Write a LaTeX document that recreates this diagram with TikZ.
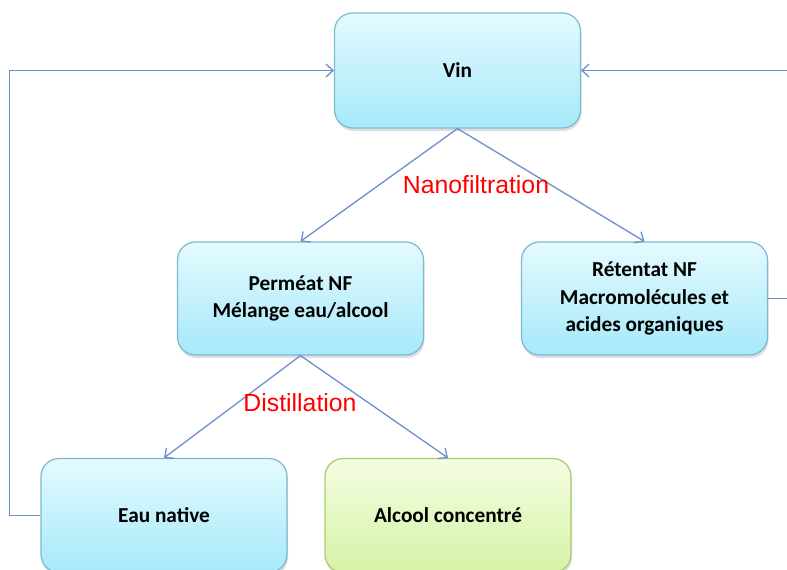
\documentclass[tikz,border=0pt]{standalone}
\usepackage{fontspec}
\setmainfont{Carlito}
\newfontfamily\labelfont{Liberation Sans}
\usetikzlibrary{arrows.meta,shadows}
\definecolor{linec}{HTML}{6E8FC9}
\definecolor{bluetop}{HTML}{E4FAFE}
\definecolor{bluebot}{HTML}{A6E9FA}
\definecolor{blueborder}{HTML}{7DB9D2}
\definecolor{greentop}{HTML}{F4FDE2}
\definecolor{greenbot}{HTML}{D6F3A6}
\definecolor{greenborder}{HTML}{A9CB73}
\tikzset{
  box/.style={draw=blueborder, line width=1.2pt, rounded corners=18pt,
    top color=bluetop, bottom color=bluebot,
    minimum width=246pt, minimum height=113pt, align=center,
    font=\fontsize{21.3}{27.5}\selectfont\bfseries,
    drop shadow={shadow xshift=1pt, shadow yshift=-3pt, opacity=0.25}},
  greenbox/.style={box, draw=greenborder, top color=greentop, bottom color=greenbot},
  conn/.style={draw=linec, line width=1.3pt},
  arr/.style={conn, -{Straight Barb[length=7pt,width=13pt,line width=1.3pt]}},
  proc/.style={text=red, font=\labelfont\fontsize{24.8}{28}\selectfont}
}
\begin{document}
\begin{tikzpicture}[x=1pt,y=-1pt]
\useasboundingbox (0,0) rectangle (787,570);
\clip (0,0) rectangle (787,570);
\fill[white] (0,0) rectangle (787,570);
\node[box, minimum height=115pt] (vin) at (457.5,70.5) {Vin};
\node[box] (perm) at (300.5,298.5) {Perméat NF\\Mélange eau/alcool};
\node[box] (ret) at (644.5,298.5) {Rétentat NF\\Macromolécules et\\acides organiques};
\node[box, minimum height=114pt] (eau) at (164,515.5) {Eau native};
\node[greenbox, minimum height=114pt] (alc) at (448,515.5) {Alcool concentré};
\draw[arr] (vin.south) -- (perm.north);
\draw[arr] (vin.south) -- (ret.north);
\draw[arr] (perm.south) -- (eau.north);
\draw[arr] (perm.south) -- (alc.north);
\draw[arr] (eau.west) -- ++(-31,0) |- (vin.west);
\draw[arr] (ret.east) -- ++(40,0) |- (vin.east);
\node[proc] (nf) at (476,185) {Nanofiltration};
\node[proc] (dist) at (300,403) {Distillation};
\end{tikzpicture}
\end{document}
